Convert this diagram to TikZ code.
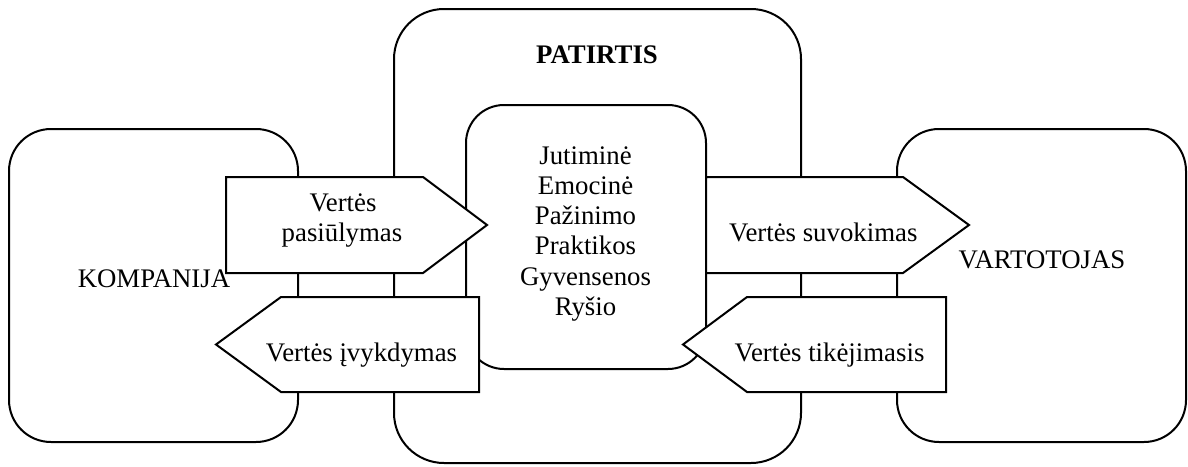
\documentclass[tikz,border=0pt]{standalone}
\usepackage{fontspec}
\setmainfont{Liberation Serif}
\begin{document}
\begin{tikzpicture}[x=0.5pt,y=-0.5pt,
  line width=1pt,
  roundbox/.style={draw=black,fill=white,line join=round},
  arrowshape/.style={draw=black,fill=white,line join=miter},
  lbl/.style={font=\fontsize{13.4pt}{15.2pt}\selectfont,anchor=base,inner sep=0pt,outer sep=0pt},
  title/.style={lbl,font=\fontsize{13.4pt}{15.2pt}\selectfont\bfseries}]
\useasboundingbox (0,0) rectangle (1188,466);
% outer boxes
\draw[roundbox,rounded corners=21pt] (9,129) rectangle (298,442);
\draw[roundbox,rounded corners=21pt] (897,129) rectangle (1186,442);
\draw[roundbox,rounded corners=25pt] (394,9) rectangle (801,463);
% inner box
\draw[roundbox,rounded corners=19pt] (466,105) rectangle (706,369);
% arrows
\draw[arrowshape] (226,177) -- (423,177) -- (487,225) -- (423,273) -- (226,273) -- cycle;
\draw[arrowshape] (479,297) -- (281,297) -- (216,344.5) -- (281,392) -- (479,392) -- cycle;
\draw[arrowshape] (706,177) -- (903,177) -- (969,225) -- (903,273) -- (706,273) -- cycle;
\draw[arrowshape] (946,297) -- (747,297) -- (683,344.5) -- (747,392) -- (946,392) -- cycle;
% texts
\node[title] (patirtis) at (597,63.3) {PATIRTIS};
\node[lbl] (kompanija) at (154,287.3) {KOMPANIJA};
\node[lbl] (vartotojas) at (1042,268.3) {VARTOTOJAS};
\node[lbl] (p1) at (343,211.7) {Vertės};
\node[lbl] (p2) at (342,241.7) {pasiūlymas};
\node[lbl] (ivyk) at (361.5,361.7) {Vertės įvykdymas};
\node[lbl] (suvok) at (823.3,241.7) {Vertės suvokimas};
\node[lbl] (tikej) at (829.5,361.7) {Vertės tikėjimasis};
\node[lbl] (i1) at (585.5,164) {Jutiminė};
\node[lbl] (i2) at (585.5,194.3) {Emocinė};
\node[lbl] (i3) at (585.5,224.6) {Pažinimo};
\node[lbl] (i4) at (585.5,254.9) {Praktikos};
\node[lbl] (i5) at (585.5,285.2) {Gyvensenos};
\node[lbl] (i6) at (585.5,315.5) {Ryšio};
\end{tikzpicture}
\end{document}
